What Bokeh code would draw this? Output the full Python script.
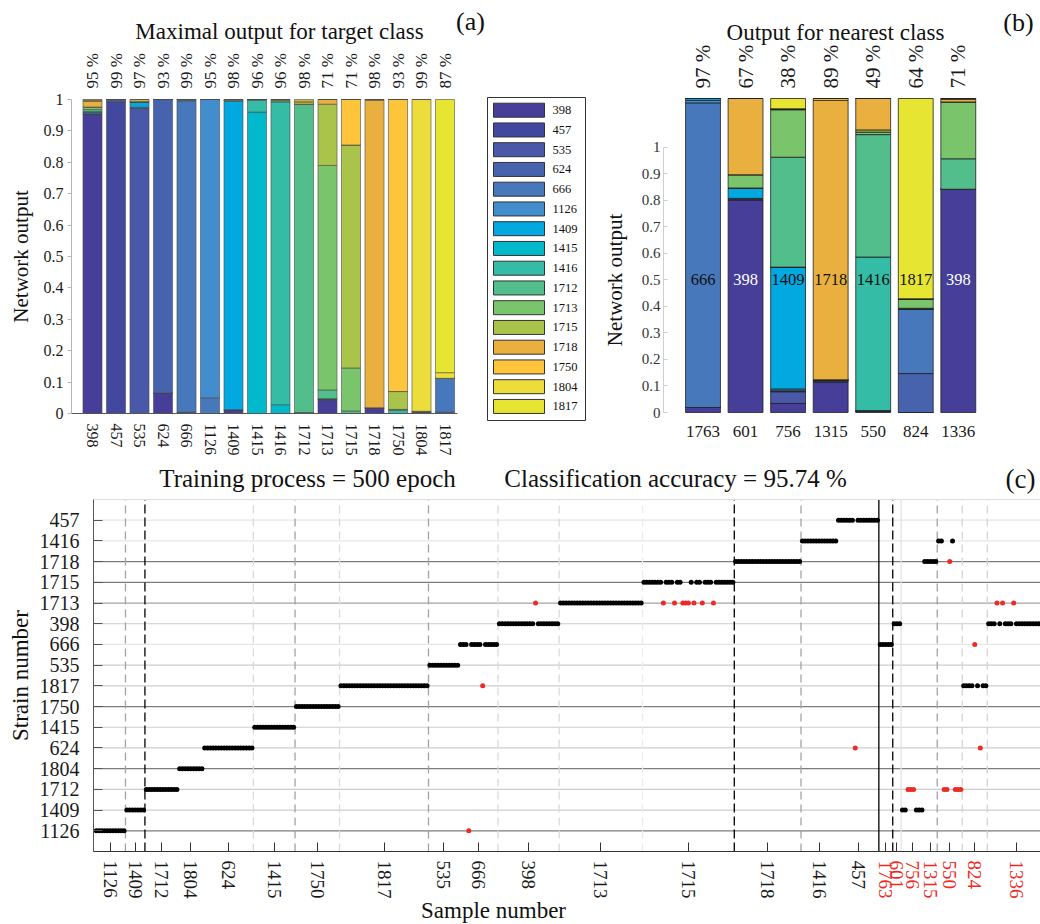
import math
from bokeh.plotting import figure
from bokeh.models import (Range1d, LinearAxis, FixedTicker, ColumnDataSource,
                          NumeralTickFormatter)
from bokeh.layouts import column, row
from bokeh.embed import file_html
from bokeh.resources import INLINE
from bokeh.core.properties import value

FONT = "Liberation Serif"

# ------------------------------------------------------------------ data
classes = ["398", "457", "535", "624", "666", "1126", "1409", "1415", "1416",
           "1712", "1713", "1715", "1718", "1750", "1804", "1817"]
class_colors = ["#463e98", "#4248a0", "#4a58aa", "#4763ae", "#4878bc", "#428dce",
                "#02a8e0", "#00bacb", "#35bca6", "#52be8c", "#7ac46b", "#aac34b",
                "#e9b040", "#fec43c", "#ecdd3a", "#e6e532"]

# (a) network output for each target class (sparse: output class -> value)
a_percent = [95, 99, 97, 93, 99, 95, 98, 96, 96, 98, 71, 71, 98, 93, 99, 87]
a_t398 = {"398": .955, "1409": .004, "1416": .003, "1712": .006, "1713": .008,
          "1718": .018, "1750": .002, "1804": .002, "1817": .002}
a_t457 = {"457": .992, "535": .006, "624": .002}
a_t535 = {"535": .972, "1126": .003, "1409": .017, "1750": .003, "1804": .005}
a_t624 = {"398": .065, "624": .935}
a_t666 = {"398": .004, "666": .990, "1126": .003, "1409": .003}
a_t1126 = {"666": .050, "1126": .950}
a_t1409 = {"398": .012, "1409": .983, "1415": .002, "1804": .003}
a_t1415 = {"1415": .960, "1416": .037, "1712": .003}
a_t1416 = {"1415": .028, "1416": .965, "1713": .004, "1715": .003}
a_t1712 = {"398": .003, "1712": .982, "1750": .005, "1804": .005, "1817": .005}
a_t1713 = {"398": .043, "457": .004, "1712": .028, "1713": .715, "1715": .195, "1718": .015}
a_t1715 = {"1712": .008, "1713": .137, "1715": .710, "1750": .145}
a_t1718 = {"398": .018, "1718": .980, "1804": .002}
a_t1750 = {"1416": .010, "1712": .003, "1715": .057, "1750": .930}
a_t1804 = {"398": .004, "666": .003, "1804": .993}
a_t1817 = {"624": .005, "666": .107, "1804": .018, "1817": .870}
a_outputs = [a_t398, a_t457, a_t535, a_t624, a_t666, a_t1126, a_t1409, a_t1415,
             a_t1416, a_t1712, a_t1713, a_t1715, a_t1718, a_t1750, a_t1804, a_t1817]

# (b) output for unknown strains
b_samples = ["1763", "601", "756", "1315", "550", "824", "1336"]
b_nearest = ["666", "398", "1409", "1718", "1416", "1817", "398"]
b_percent = [97, 67, 38, 89, 49, 64, 71]
b_s1763 = {"398": .016, "666": .970, "1126": .008, "1409": .006}
b_s601 = {"398": .678, "1126": .004, "1409": .033, "1713": .042, "1718": .243}
b_s756 = {"398": .029, "535": .037, "624": .003, "1126": .006, "1409": .388,
          "1712": .350, "1713": .151, "1715": .003, "1817": .033}
b_s1315 = {"398": .098, "624": .006, "1718": .890, "1750": .006}
b_s550 = {"398": .004, "1415": .002, "1416": .489, "1712": .390, "1713": .008,
          "1715": .007, "1718": .100}
b_s824 = {"624": .124, "666": .206, "1712": .002, "1713": .030, "1817": .638}
b_s1336 = {"398": .711, "1712": .097, "1713": .181, "1718": .008, "1750": .003}
b_outputs = [b_s1763, b_s601, b_s756, b_s1315, b_s550, b_s824, b_s1336]

# (c) classification of every sample
train_order = ["1126", "1409", "1712", "1804", "624", "1415", "1750", "1817",
               "535", "666", "398", "1713", "1715", "1718", "1416", "457"]
train_counts = [11, 7, 12, 9, 18, 15, 16, 32, 11, 14, 22, 30, 33, 24, 13, 15]
train_errors = {135: "1126", 140: "1817", 159: "1713", 205: "1713", 209: "1713",
                212: "1713", 213: "1713", 214: "1713", 216: "1713", 219: "1713",
                223: "1713", 274: "624"}
test_pred_1763 = ["666"] * 5
test_pred_601 = ["398"] * 3
test_pred_756 = ["1409", "1409", "1712", "1712", "1712", "1409", "1409", "1409"]
test_pred_1315 = ["1718"] * 5
test_pred_550 = ["1416", "1416", "1712", "1712", "1718", "1416", "1712", "1712", "1712"]
test_pred_824 = ["1817", "1817", "1817", "1817", "666", "1817", "624", "1817", "1817"]
test_pred_1336 = ["398", "398", "398", "1713", "398", "1713", "398", "398", "398", "1713",
                  "398", "398", "398", "398", "398", "398", "398", "398", "398", "398", "398"]
test_preds = [test_pred_1763, test_pred_601, test_pred_756, test_pred_1315,
              test_pred_550, test_pred_824, test_pred_1336]
accuracy_text = "Classification accuracy = 95.74 %"
training_text = "Training process = 500 epoch"

# ------------------------------------------------------------------ styles
RED = "#ee2a24"
DARK = "#7d7d7d"
MID = "#a3a3a3"
LIGHT = "#cdcdcd"
FAINT = "#e6e6e6"
row_line_color = {"457": FAINT, "1416": FAINT, "1718": DARK, "1715": DARK, "1713": MID,
                  "398": LIGHT, "666": FAINT, "535": LIGHT, "1817": LIGHT, "1750": DARK,
                  "1415": LIGHT, "624": LIGHT, "1804": DARK, "1712": LIGHT, "1409": LIGHT,
                  "1126": DARK}
# vertical separator after the named class: (colour, dash)
sep_style = {"1126": (MID, "8 5"), "1409": ("black", "9 4"), "624": ("#dadada", "8 5"),
             "1415": (MID, "8 5"), "1750": ("#dadada", "8 5"), "1817": (MID, "8 5"),
             "666": ("#dadada", "8 5"), "398": ("#dadada", "8 5"), "1713": ("#ececec", "8 5"),
             "1715": ("black", "9 4"), "1718": (MID, "8 5"), "457": ("black", "solid"),
             "1763": ("black", "9 4"), "601": ("#e2e2e2", "solid"), "1315": (MID, "8 5"),
             "550": ("#d4d4d4", "8 5"), "824": ("#d4d4d4", "8 5")}


def new_fig(w, h, xr, yr):
    f = figure(width=w, height=h, x_range=Range1d(*xr), y_range=Range1d(*yr),
               x_axis_type=None, y_axis_type=None, output_backend="svg",
               toolbar_location=None, min_border_left=0, min_border_right=0,
               min_border_top=0, min_border_bottom=0)
    f.outline_line_color = None
    f.background_fill_color = "white"
    f.border_fill_color = "white"
    return f


def style_axis(ax, size, color="#1a1a1a"):
    ax.major_label_text_font = FONT
    ax.major_label_text_font_size = size
    ax.major_label_text_color = color
    ax.axis_label_text_font = FONT
    ax.axis_label_text_font_style = "normal"
    ax.axis_label_text_color = "#111111"
    ax.minor_tick_line_color = None
    ax.major_tick_out = 0


def put(fig, x, y, text, size, align="center", color="#111111"):
    fig.text(x=[x], y=[y], text=[text], text_font=value(FONT), text_font_size=size,
             text_align=align, text_baseline="middle", text_color=color)


TICKS01 = [0, .1, .2, .3, .4, .5, .6, .7, .8, .9, 1]

# ------------------------------------------------------------------ panel (a)
# page-pixel -> data helpers (layout only)
def AX(px): return 1 + (px - 92) / 23.5
def AY(py): return (413 - py) / 314


fa = new_fig(485, 460, (AX(0), AX(485)), (AY(460), AY(0)))
xa = list(range(1, len(classes) + 1))
src_a = {"x": xa}
for c in classes:
    src_a[c] = [t.get(c, 0.0) for t in a_outputs]
fa.vbar_stack(classes, x="x", width=0.81, color=class_colors, line_color="#4a4a4a",
              line_width=0.8, line_alpha=0.75, source=ColumnDataSource(src_a))

yl = LinearAxis(ticker=FixedTicker(ticks=TICKS01), fixed_location=AX(71), bounds=(0, 1),
                formatter=NumeralTickFormatter(format="0.[0]"), axis_label="Network output")
style_axis(yl, "16px")
yl.axis_label_text_font_size = "21px"
yl.axis_line_color = "#b5b5b5"
yl.major_tick_line_color = "#b5b5b5"
yl.major_tick_out = 4
yl.major_tick_in = 0
yl.major_label_standoff = 4
yl.axis_label_standoff = 8
fa.add_layout(yl, "left")

xb = LinearAxis(ticker=FixedTicker(ticks=xa), fixed_location=0, bounds=(AX(71), AX(457)),
                major_label_overrides={i: c for i, c in zip(xa, classes)})
style_axis(xb, "16px")
xb.major_label_orientation = "vertical"
xb.axis_line_color = "#555555"
xb.major_tick_line_color = None
xb.major_tick_in = 0
xb.major_label_standoff = 10
fa.add_layout(xb, "below")

xt = LinearAxis(ticker=FixedTicker(ticks=xa), fixed_location=1,
                major_label_overrides={i: f"{p} %" for i, p in zip(xa, a_percent)})
style_axis(xt, "17px")
xt.major_label_orientation = "vertical"
xt.axis_line_color = None
xt.major_tick_line_color = None
xt.major_tick_in = 0
xt.major_label_standoff = 11
fa.add_layout(xt, "above")

put(fa, AX(279), AY(31), "Maximal output for target class", "23px")
put(fa, AX(470), AY(21), "(a)", "26px")

# ------------------------------------------------------------------ legend
fl = new_fig(115, 460, (485, 600), (460, 0))   # page pixel space
fl.rect(x=[(487 + 585) / 2], y=[(97 + 420) / 2], width=98, height=323, fill_color=None,
        line_color="#333333", line_width=1)
ly = [109.7 + 19.75 * i for i in range(len(classes))]
fl.rect(x=518.5, y=ly, width=51, height=14, fill_color=class_colors, line_color="#333333",
        line_width=1)
fl.text(x=552, y=ly, text=classes, text_baseline="middle", text_align="left",
        text_font=value(FONT), text_font_size="12.5px", text_color="#111111")

# ------------------------------------------------------------------ panel (b)
def BX(px): return 1 + (px - 702.5) / 42.55
def BY(py): return (412 - py) / 314
def BYA(py): return (412 - py) / 265.3


fb = new_fig(440, 460, (BX(600), BX(1040)), (BY(460), BY(0)))
fb.extra_y_ranges = {"ax": Range1d(BYA(460), BYA(0))}
xbv = list(range(1, len(b_samples) + 1))
src_b = {"x": xbv}
for c in classes:
    src_b[c] = [t.get(c, 0.0) for t in b_outputs]
fb.vbar_stack(classes, x="x", width=0.82, color=class_colors, line_color="#222222",
              line_width=1, line_alpha=0.8, source=ColumnDataSource(src_b))
fb.text(x=xbv, y=[0.5] * len(xbv), text=b_nearest, y_range_name="ax",
        text_color=["white" if n == "398" else "#111111" for n in b_nearest],
        text_align="center", text_baseline="middle", text_font=value(FONT),
        text_font_size="16.5px")

ybl = LinearAxis(y_range_name="ax", ticker=FixedTicker(ticks=TICKS01), fixed_location=BX(663),
                 bounds=(0, 1), formatter=NumeralTickFormatter(format="0.[0]"),
                 axis_label="Network output")
style_axis(ybl, "15px", "#333333")
ybl.axis_label_text_font_size = "21px"
ybl.axis_line_color = "#cfcfcf"
ybl.major_tick_line_color = "#cfcfcf"
ybl.major_tick_in = 4
ybl.major_label_standoff = 3
ybl.axis_label_standoff = 12
fb.add_layout(ybl, "left")

xbb = LinearAxis(ticker=FixedTicker(ticks=xbv), fixed_location=0,
                 major_label_overrides={i: s for i, s in zip(xbv, b_samples)})
style_axis(xbb, "17px")
xbb.axis_line_color = None
xbb.major_tick_line_color = None
xbb.major_tick_in = 0
xbb.major_label_standoff = 13
fb.add_layout(xbb, "below")

xbt = LinearAxis(ticker=FixedTicker(ticks=xbv), fixed_location=1,
                 major_label_overrides={i: f"{p} %" for i, p in zip(xbv, b_percent)})
style_axis(xbt, "21px")
xbt.major_label_orientation = "vertical"
xbt.axis_line_color = None
xbt.major_tick_line_color = None
xbt.major_tick_in = 0
xbt.major_label_standoff = 10
fb.add_layout(xbt, "above")

put(fb, BX(835), BY(32), "Output for nearest class", "23px")
put(fb, BX(1018), BY(22), "(b)", "26px")

# ------------------------------------------------------------------ panel (c)
def CX(px): return (px - 93) / 2.78
def CY(py): return (851 - py) / 20.706


fc = new_fig(1040, 463, (CX(0), CX(1040)), (CY(923), CY(460)))
x_end = CX(1040)

row_of = {s: i + 1 for i, s in enumerate(train_order)}
xs, ys, cs = [], [], []
centers, bounds = [], []
k = 0
for name, n in zip(train_order, train_counts):
    start = k + 1
    for _ in range(n):
        k += 1
        pred = train_errors.get(k, name)
        xs.append(k); ys.append(row_of[pred]); cs.append("black" if pred == name else RED)
    centers.append((start + k) / 2)
    bounds.append((name, k + 0.5))
for name, near, preds in zip(b_samples, b_nearest, test_preds):
    start = k + 1
    for pred in preds:
        k += 1
        xs.append(k); ys.append(row_of[pred]); cs.append("black" if pred == near else RED)
    centers.append((start + k) / 2)
    bounds.append((name, k + 0.5))

# horizontal row lines, grouped by colour
for col in [FAINT, LIGHT, MID, DARK]:
    rows_ = [row_of[s] for s in train_order if row_line_color[s] == col]
    fc.segment(x0=[0] * len(rows_), y0=rows_, x1=[x_end] * len(rows_), y1=rows_,
               line_color=col, line_width=1.2)
# vertical class separators, grouped by style
groups = {}
for name, b in bounds:
    if name in sep_style:
        groups.setdefault(sep_style[name], []).append(b)
for (col, dash), locs in groups.items():
    fc.segment(x0=locs, y0=[0] * len(locs), x1=locs, y1=[17] * len(locs),
               line_color=col, line_dash=dash, line_width=1.3)

fc.scatter(x=xs, y=ys, color=cs, size=5, marker="circle", line_width=0)

top = LinearAxis(ticker=FixedTicker(ticks=[]), fixed_location=17, bounds=(0, x_end))
top.axis_line_color = "#dedede"
top.major_tick_line_color = None
top.minor_tick_line_color = None
fc.add_layout(top, "above")

ycl = LinearAxis(ticker=FixedTicker(ticks=list(range(1, 17))), fixed_location=0,
                 bounds=(0, 17),
                 major_label_overrides={i + 1: s for i, s in enumerate(train_order)},
                 axis_label="Strain number")
style_axis(ycl, "20px")
ycl.axis_label_text_font_size = "23px"
ycl.axis_line_color = "#555555"
ycl.major_tick_line_color = "#555555"
ycl.major_tick_in = 9
ycl.major_label_standoff = 14
ycl.axis_label_standoff = 4
fc.add_layout(ycl, "left")

ntr = len(train_order)
xcl = LinearAxis(ticker=FixedTicker(ticks=centers[:ntr]), fixed_location=0,
                 bounds=(0, x_end),
                 major_label_overrides={c: train_order[i] for i, c in enumerate(centers[:ntr])})
style_axis(xcl, "19px")
xcl.major_label_orientation = "vertical"
xcl.axis_line_color = "#333333"
xcl.major_tick_line_color = "#333333"
xcl.major_tick_in = 9
xcl.major_label_standoff = 9
fc.add_layout(xcl, "below")

xcr = LinearAxis(ticker=FixedTicker(ticks=centers[ntr:]), fixed_location=0,
                 major_label_overrides={c: b_samples[i] for i, c in enumerate(centers[ntr:])})
style_axis(xcr, "19px", RED)
xcr.major_label_orientation = "vertical"
xcr.axis_line_color = None
xcr.major_tick_line_color = "#333333"
xcr.major_tick_in = 9
xcr.major_label_standoff = 9
fc.add_layout(xcr, "below")

put(fc, CX(307), CY(478), training_text, "25px")
put(fc, CX(675), CY(478), accuracy_text, "25px")
put(fc, CX(1020), CY(478), "(c)", "27px")
put(fc, CX(493), CY(910), "Sample number", "23px")

layout = column(row(fa, fl, fb), fc)
open("out.html", "w").write(file_html(layout, INLINE, title="Network output"))
